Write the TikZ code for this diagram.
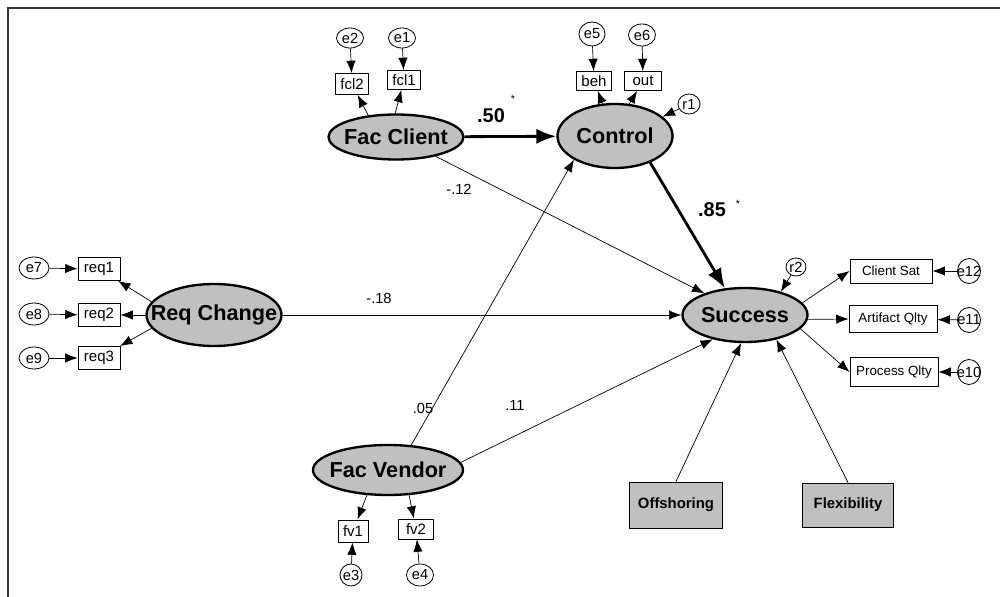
\documentclass[tikz,border=0pt]{standalone}
\usepackage{fontspec}
\setmainfont{Liberation Sans}
\usetikzlibrary{shapes.geometric,arrows.meta}
\definecolor{latgray}{RGB}{192,192,192}
\def\pu{0.03cm}
\begin{document}
\begin{tikzpicture}[x=0.03cm,y=-0.03cm,
  latent/.style={ellipse,draw,line width=2pt,fill=latgray,inner sep=0pt,
    font=\bfseries\fontsize{18.5}{20}\selectfont},
  ind/.style={rectangle,draw,line width=0.8pt,inner sep=1pt,
    font=\fontsize{12.8}{14}\selectfont},
  outc/.style={rectangle,draw,line width=0.8pt,inner sep=1pt,
    font=\fontsize{11.4}{13}\selectfont},
  exo/.style={rectangle,draw,line width=0.8pt,fill=latgray,inner sep=1pt,
    font=\bfseries\fontsize{12.7}{14}\selectfont},
  err/.style={ellipse,draw,line width=0.7pt,inner sep=0pt,
    font=\fontsize{12.5}{14}\selectfont},
  coef/.style={inner sep=0pt,font=\fontsize{12.5}{14}\selectfont},
  bigcoef/.style={inner sep=0pt,font=\bfseries\fontsize{17}{19}\selectfont},
  star/.style={inner sep=0pt,font=\fontsize{9}{10}\selectfont},
  reg/.style={draw,line width=0.6pt,-{Latex[length=10.5pt,width=8pt]}},
  strong/.style={draw,line width=2.4pt,-{Latex[length=17pt,width=13pt]}}]

\useasboundingbox (0,0) rectangle (1000,597);
% frame lines
\draw[line width=1.8pt,black!80] (8,597) -- (8,8) -- (1000,8);

% latent variables
\node[latent,minimum width=135*\pu,minimum height=45*\pu] (fc) at (396,137) {\makebox[0pt]{Fac Client}};
\node[latent,minimum width=115*\pu,minimum height=64*\pu] (ctl) at (615,136) {\makebox[0pt]{Control}};
\node[latent,minimum width=125*\pu,minimum height=54*\pu] (suc) at (745,315) {\makebox[0pt]{Success}};
\node[latent,minimum width=135*\pu,minimum height=62*\pu] (rc) at (214,315) {\makebox[0pt]{Req Change}};
\node[latent,minimum width=150*\pu,minimum height=50*\pu] (fv) at (388,470) {\makebox[0pt]{Fac Vendor}};

% indicators
\node[ind,minimum width=33*\pu,minimum height=21*\pu] (fcl2) at (352,84) {fcl2};
\node[ind,minimum width=33*\pu,minimum height=19*\pu] (fcl1) at (404,80) {fcl1};
\node[ind,minimum width=35*\pu,minimum height=19*\pu] (beh) at (594,81) {beh};
\node[ind,minimum width=37*\pu,minimum height=19*\pu] (out) at (643,81) {out};
\node[ind,minimum width=42*\pu,minimum height=23*\pu] (req1) at (99,269) {req1};
\node[ind,minimum width=42*\pu,minimum height=23*\pu] (req2) at (99,315) {req2};
\node[ind,minimum width=42*\pu,minimum height=23*\pu] (req3) at (99,358) {req3};
\node[ind,minimum width=30*\pu,minimum height=22*\pu] (fv1) at (353,531) {fv1};
\node[ind,minimum width=35*\pu,minimum height=20*\pu] (fv2) at (416,529) {fv2};
\node[outc,minimum width=82*\pu,minimum height=24*\pu] (cs) at (891,271) {Client Sat};
\node[outc,minimum width=88*\pu,minimum height=27*\pu] (aq) at (893,319) {Artifact Qlty};
\node[outc,minimum width=88*\pu,minimum height=29*\pu] (pq) at (894,372) {Process Qlty};

% exogenous observed variables
\node[exo,minimum width=93*\pu,minimum height=46*\pu] (off) at (676,505) {Offshoring};
\node[exo,minimum width=91*\pu,minimum height=44*\pu] (flx) at (848,505) {Flexibility};

% error terms
\node[err,minimum width=27*\pu,minimum height=20*\pu] (e2) at (350,38) {\makebox[0pt]{e2}};
\node[err,minimum width=27*\pu,minimum height=20*\pu] (e1) at (402,38) {\makebox[0pt]{e1}};
\node[err,minimum width=26*\pu,minimum height=24*\pu] (e5) at (592,34) {\makebox[0pt]{e5}};
\node[err,minimum width=27*\pu,minimum height=22*\pu] (e6) at (642,35) {\makebox[0pt]{e6}};
\node[err,minimum width=22*\pu,minimum height=20*\pu] (r1) at (689,104) {\makebox[0pt]{r1}};
\node[err,minimum width=20*\pu,minimum height=18*\pu] (r2) at (796,267) {\makebox[0pt]{r2}};
\node[err,minimum width=30*\pu,minimum height=22*\pu] (e7) at (34,268) {\makebox[0pt]{e7}};
\node[err,minimum width=30*\pu,minimum height=22*\pu] (e8) at (34,314) {\makebox[0pt]{e8}};
\node[err,minimum width=30*\pu,minimum height=22*\pu] (e9) at (34,358) {\makebox[0pt]{e9}};
\node[err,minimum width=22*\pu,minimum height=22*\pu] (e3) at (351,575) {\makebox[0pt]{e3}};
\node[err,minimum width=27*\pu,minimum height=22*\pu] (e4) at (420,575) {\makebox[0pt]{e4}};
\node[err,minimum width=23*\pu,minimum height=25*\pu] (e12) at (969,271) {\makebox[0pt]{e12}};
\node[err,minimum width=23*\pu,minimum height=25*\pu] (e11) at (969,320) {\makebox[0pt]{e11}};
\node[err,minimum width=23*\pu,minimum height=25*\pu] (e10) at (969,372) {\makebox[0pt]{e10}};

% structural paths
\draw[strong] (fc) -- (ctl);
\draw[strong] (ctl.-37) -- (suc.127);
\draw[reg] (fc.-26) -- (suc.152);
\draw[reg] (rc) -- (suc);
\draw[reg] (fv.47) -- (ctl.210);
\draw[reg] (fv.6) -- (suc.217);
\draw[reg] (off.north) -- (suc.262);
\draw[reg] (flx.north) -- (suc.-38);
\draw[reg] (r1) -- (ctl.22);
\draw[reg] (r2) -- (suc.33);

% measurement paths
\draw[reg] (fc.142) -- (fcl2);
\draw[reg] (fc.92) -- (fcl1);
\draw[reg] (ctl.111) -- (beh);
\draw[reg] (ctl.66) -- (out);
\draw[reg] (rc.168) -- (req1);
\draw[reg] (rc.west) -- (req2);
\draw[reg] (rc.-168) -- (req3);
\draw[reg] (fv.230) -- (fv1);
\draw[reg] (fv.-50) -- (fv2);
\draw[reg] (suc.12) -- (cs.west);
\draw[reg] (suc.-4) -- (aq.west);
\draw[reg] (suc.-14) -- (pq.west);

% error paths
\draw[reg] (e2) -- (fcl2);
\draw[reg] (e1) -- (fcl1);
\draw[reg] (e5) -- (beh);
\draw[reg] (e6) -- (out);
\draw[reg] (e7) -- (req1);
\draw[reg] (e8) -- (req2);
\draw[reg] (e9) -- (req3);
\draw[reg] (e3) -- (fv1);
\draw[reg] (e4) -- (fv2);
\draw[reg] (e12) -- (cs);
\draw[reg] (e11) -- (aq);
\draw[reg] (e10) -- (pq);

% coefficients
\node[bigcoef] (c50) at (491,116) {.50};
\node[star] (s50) at (513,99) {*};
\node[bigcoef] (c85) at (712,210) {.85};
\node[star] (s85) at (738,204) {*};
\node[coef] (c12) at (459,189) {-.12};
\node[coef] (c18) at (379,298) {-.18};
\node[coef] (c05) at (423,408) {.05};
\node[coef] (c11) at (515,405) {.11};
\end{tikzpicture}
\end{document}
